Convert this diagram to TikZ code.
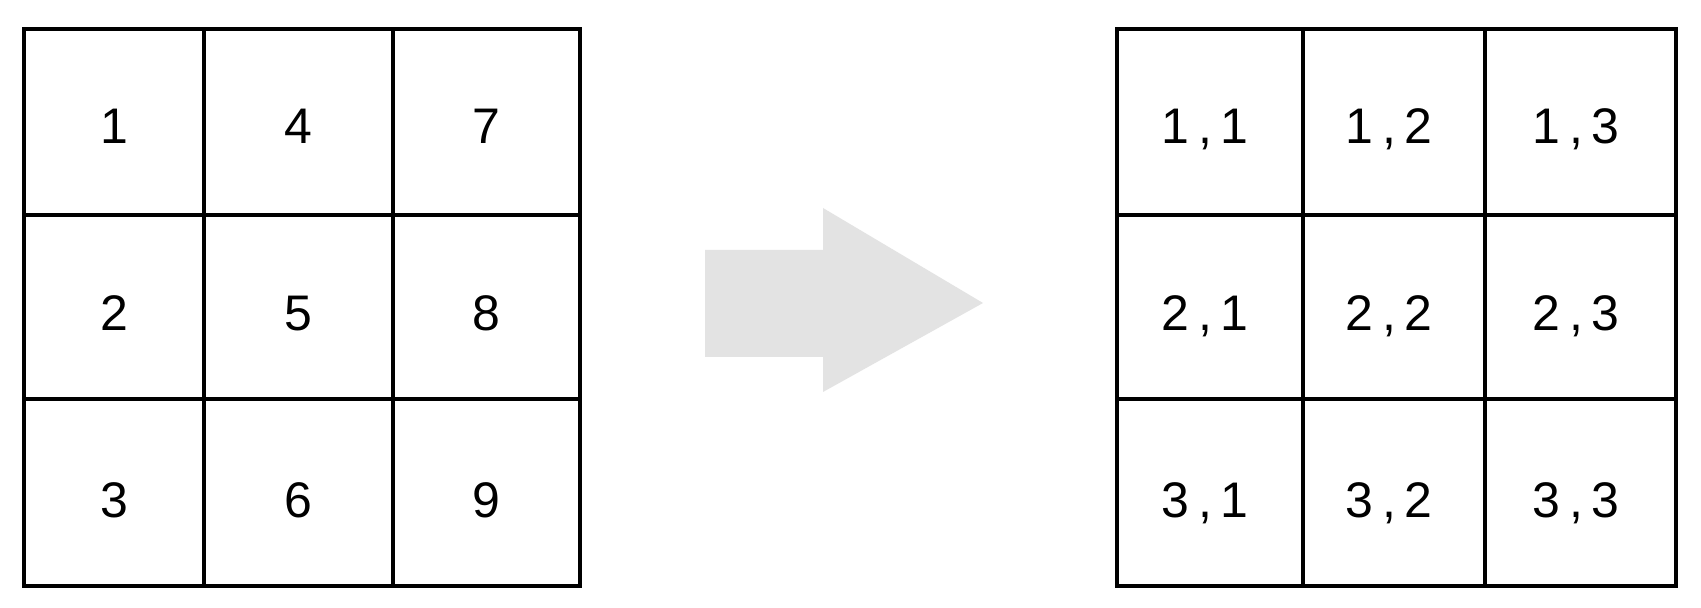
\documentclass[tikz,border=0pt]{standalone}
\usepackage{fontspec}
\setmainfont{Liberation Sans}
\begin{document}
\begin{tikzpicture}[x=0.5pt,y=0.5pt,
  gridline/.style={line width=1.8pt, line cap=rect},
  cell/.style={anchor=base, inner sep=0pt, font=\fontsize{25pt}{30pt}\selectfont},
  bigarrow/.style={fill={rgb,255:red,227;green,227;blue,227}, draw=none}]
\useasboundingbox (0,0) rectangle (1701,608);
\fill[white] (0,0) rectangle (1701,608);

% left grid: numbering in column-major order
\draw[gridline] (24,22) rectangle (580,579);
\draw[gridline] (204,22) -- (204,579) (393,22) -- (393,579)
                (24,393) -- (580,393) (24,209) -- (580,209);
\node[cell] (l1) at (114,464) {1};
\node[cell] (l4) at (298.5,464) {4};
\node[cell] (l7) at (486.5,464) {7};
\node[cell] (l2) at (114,277) {2};
\node[cell] (l5) at (298.5,277) {5};
\node[cell] (l8) at (486.5,277) {8};
\node[cell] (l3) at (114,90) {3};
\node[cell] (l6) at (298.5,90) {6};
\node[cell] (l9) at (486.5,90) {9};

% transformation arrow
\fill[bigarrow] (705,358) -- (823,358) -- (823,400) -- (983,305)
  -- (823,216) -- (823,251) -- (705,251) -- cycle;

% right grid: (row, column) indices
\newcommand{\rc}[2]{#1\hspace{0.17em},\hspace{0.17em}#2}
\draw[gridline] (1117,22) rectangle (1676,579);
\draw[gridline] (1303,22) -- (1303,579) (1485,22) -- (1485,579)
                (1117,393) -- (1676,393) (1117,209) -- (1676,209);
\node[cell] (r11) at (1205,464) {\rc{1}{1}};
\node[cell] (r12) at (1389,464) {\rc{1}{2}};
\node[cell] (r13) at (1576,464) {\rc{1}{3}};
\node[cell] (r21) at (1205,277) {\rc{2}{1}};
\node[cell] (r22) at (1389,277) {\rc{2}{2}};
\node[cell] (r23) at (1576,277) {\rc{2}{3}};
\node[cell] (r31) at (1205,90) {\rc{3}{1}};
\node[cell] (r32) at (1389,90) {\rc{3}{2}};
\node[cell] (r33) at (1576,90) {\rc{3}{3}};
\end{tikzpicture}
\end{document}
